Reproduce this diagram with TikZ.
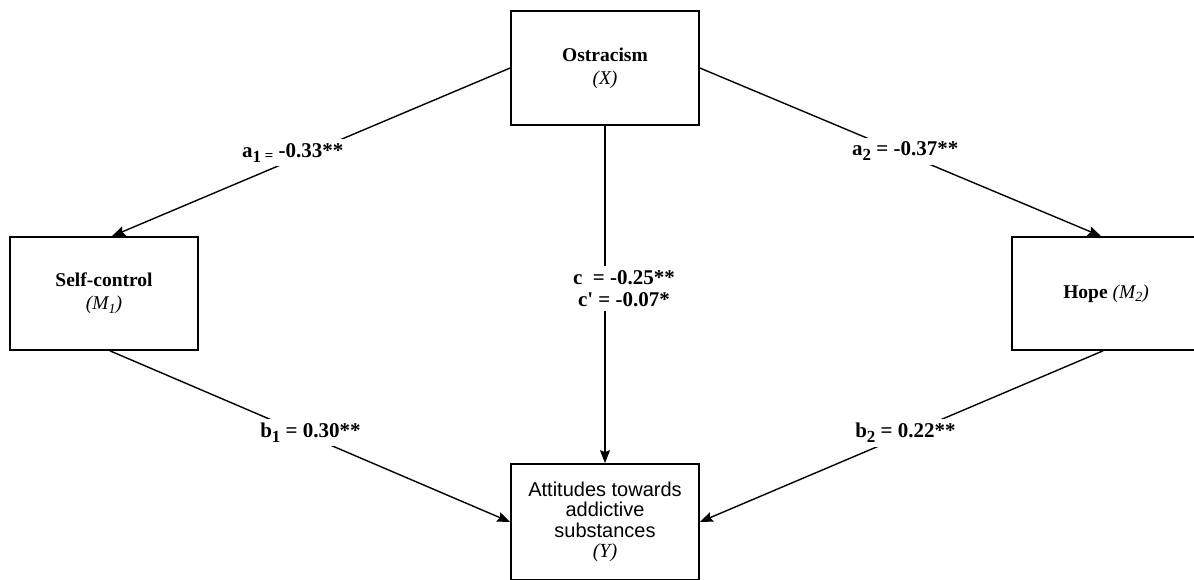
\documentclass[tikz,border=0pt]{standalone}
\usepackage{fontspec}
\setmainfont{Liberation Serif}
\newfontfamily\arialfont{Liberation Sans}
\usetikzlibrary{arrows.meta}
\newcommand\lsub[1]{\raisebox{-5pt}{\fontsize{17}{17}\selectfont #1}}
\newcommand\bsub[1]{\raisebox{-3.5pt}{\fontsize{14}{14}\selectfont #1}}
\begin{document}
\begin{tikzpicture}[x=1pt,y=-1pt,
  box/.style={draw, line width=1.7pt, minimum width=188pt, minimum height=114pt, align=center, inner sep=0pt, font=\fontsize{19.5}{23}\selectfont\bfseries},
  conn/.style={line width=1.4pt, -{Stealth[length=13pt,width=10pt,inset=2pt]}},
  lab/.style={fill=white, font=\fontsize{21}{22}\selectfont\bfseries, inner sep=4pt, align=center}]
\useasboundingbox (0,0) rectangle (1194,580);
\begin{scope}
\clip (0,0) rectangle (1194,580);
\node[box] (X) at (605,68) {Ostracism\\{\mdseries\itshape (X)}};
\node[box, minimum height=113pt] (M1) at (104,293.5) {Self-control\\{\mdseries\itshape (M\bsub{1})}};
\node[box, minimum height=113pt] (M2) at (1106,293.5) {Hope {\mdseries\itshape (M\bsub{2})}};
\node[box, minimum height=116pt, font=\arialfont\fontsize{20}{20.5}\selectfont] (Y) at (605,522) {Attitudes towards\\addictive\\substances\\{\rmfamily\itshape (Y)}};
\draw[conn] (X.west) -- node[lab, pos=0.546, yshift=7pt] (la1) {a\lsub{1}\raisebox{-3pt}{\fontsize{15}{15}\selectfont\ =} -0.33**} ([xshift=8pt]M1.north);
\draw[conn] (X.east) -- node[lab, pos=0.512, yshift=3pt] (la2) {a\lsub{2} = -0.37**} ([xshift=-5pt]M2.north);
\draw[conn] (X.south) -- node[lab, pos=0.482, xshift=19pt] (lc) {c \ = -0.25**\\c\textquotesingle\ = -0.07*} (Y.north);
\draw[conn] ([xshift=6pt]M1.south) -- node[lab, pos=0.501, yshift=4pt] (lb1) {b\lsub{1} = 0.30**} (Y.west);
\draw[conn] ([xshift=-3pt]M2.south) -- node[lab, pos=0.49, yshift=2pt] (lb2) {b\lsub{2} = 0.22**} (Y.east);
\end{scope}
\end{tikzpicture}
\end{document}
